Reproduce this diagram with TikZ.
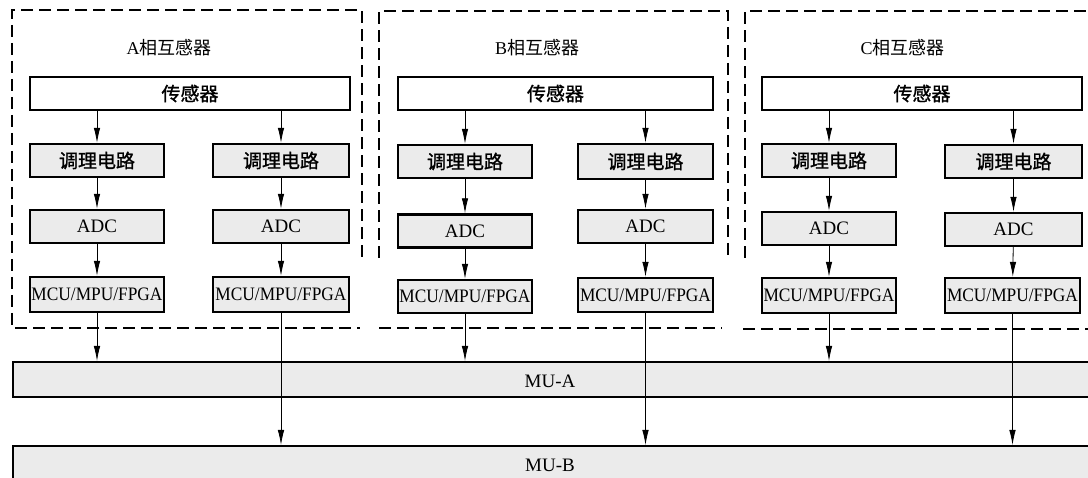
\documentclass[tikz,border=0pt]{standalone}
\usepackage{fontspec}
\usepackage{graphicx}
\setmainfont{Liberation Serif}
\newfontfamily\cjk{Noto Sans CJK SC}
\newfontfamily\cjkb[FakeBold=1.2]{Noto Sans CJK SC}
\usetikzlibrary{arrows.meta}
\definecolor{boxgray}{RGB}{235,235,235}
\newcommand{\mcutext}{\resizebox{131pt}{\height}{MCU/MPU/FPGA}}
\begin{document}
\begin{tikzpicture}[x=1pt,y=-1pt,
  box/.style={draw, line width=2.4pt, fill=boxgray, minimum height=33pt, minimum width=134pt, inner sep=0pt, font=\fontsize{19}{20}\selectfont},
  sensorbox/.style={box, fill=white},
  titletext/.style={inner sep=0pt, font=\fontsize{18}{20}\selectfont},
  mubar/.style={draw, line width=2.4pt, fill=boxgray, minimum width=1090pt, inner sep=0pt, anchor=north west},
  grp/.style={line width=1.9pt, dash pattern=on 12pt off 6pt},
  arr/.style={line width=0.8pt, -{Latex[length=15pt,width=6.5pt]}}]
\useasboundingbox (0,0) rectangle (1088,478);
\clip (0,0) rectangle (1088,478);

% dashed group outlines
\draw[grp] (362,257) -- (362,10) -- (12,10) -- (12,328) -- (360,328);
\draw[grp] (379,258) -- (379,11) -- (728,11) -- (728,257);
\draw[grp] (379,328) -- (722,328);
\draw[grp] (745,258) -- (745,11) -- (1092,11);
\draw[grp] (743,329) -- (1092,329);

% MU bars
\node[mubar, minimum height=35pt] (mua) at (12,361) {};
\node[titletext, font=\fontsize{19}{20}\selectfont] (muatext) at (550,381) {MU-A};
\node[mubar, minimum height=40pt] (mub) at (12,445) {};
\node[titletext, font=\fontsize{19}{20}\selectfont] (mubtext) at (550,465) {MU-B};

% ---------- Group A ----------
\node[titletext] (tA) at (169,48) {A{\cjk 相互感器}};
\node[sensorbox, minimum width=320pt] (sA) at (190,93.5) {\cjkb 传感器};
\node[box] (cAL) at (97,160.5) {\cjkb 调理电路};
\node[box, minimum width=136pt] (cAR) at (281,160.5) {\cjkb 调理电路};
\node[box] (aAL) at (97,226.5) {ADC};
\node[box, minimum width=136pt] (aAR) at (281,226.5) {ADC};
\node[box, minimum height=35pt] (mAL) at (97,294.5) {\mcutext};
\node[box, minimum height=35pt, minimum width=136pt] (mAR) at (281,294.5) {\mcutext};

% ---------- Group B ----------
\node[titletext] (tB) at (537,48) {B{\cjk 相互感器}};
\node[sensorbox, minimum width=315pt] (sB) at (555.5,93.5) {\cjkb 传感器};
\node[box] (cBL) at (465,161.5) {\cjkb 调理电路};
\node[box, minimum width=135pt, minimum height=35pt] (cBR) at (645.5,161.5) {\cjkb 调理电路};
\node[box] (aBL) at (465,231) {ADC};
\node[box, minimum width=135pt] (aBR) at (645.5,226.5) {ADC};
\node[box] (mBL) at (465,296.5) {\mcutext};
\node[box, minimum height=34pt, minimum width=135pt] (mBR) at (645.5,295) {\mcutext};

% ---------- Group C ----------
\node[titletext] (tC) at (902.5,48) {C{\cjk 相互感器}};
\node[sensorbox, minimum width=320pt] (sC) at (922,93.5) {\cjkb 传感器};
\node[box] (cCL) at (829,160.5) {\cjkb 调理电路};
\node[box, minimum width=137pt] (cCR) at (1013.5,161.5) {\cjkb 调理电路};
\node[box] (aCL) at (829,228.5) {ADC};
\node[box, minimum width=137pt] (aCR) at (1013.5,229.5) {ADC};
\node[box, minimum height=35pt] (mCL) at (829,295.5) {\mcutext};
\node[box, minimum height=35pt, minimum width=135pt] (mCR) at (1012.5,295.5) {\mcutext};

% ---------- arrows ----------
\foreach \g in {A,B,C}{
  \draw[arr] (s\g.south -| c\g L) -- (c\g L);
  \draw[arr] (s\g.south -| c\g R) -- (c\g R);
  \draw[arr] (c\g L) -- (a\g L);
  \draw[arr] (c\g R) -- (a\g R);
  \draw[arr] (a\g L) -- (m\g L);
  \draw[arr] (a\g R) -- (m\g R);
  \draw[arr] (m\g L.south) -- (mua.north -| m\g L);
  \draw[arr] (m\g R.south) -- (mub.north -| m\g R);
}
\end{tikzpicture}
\end{document}
